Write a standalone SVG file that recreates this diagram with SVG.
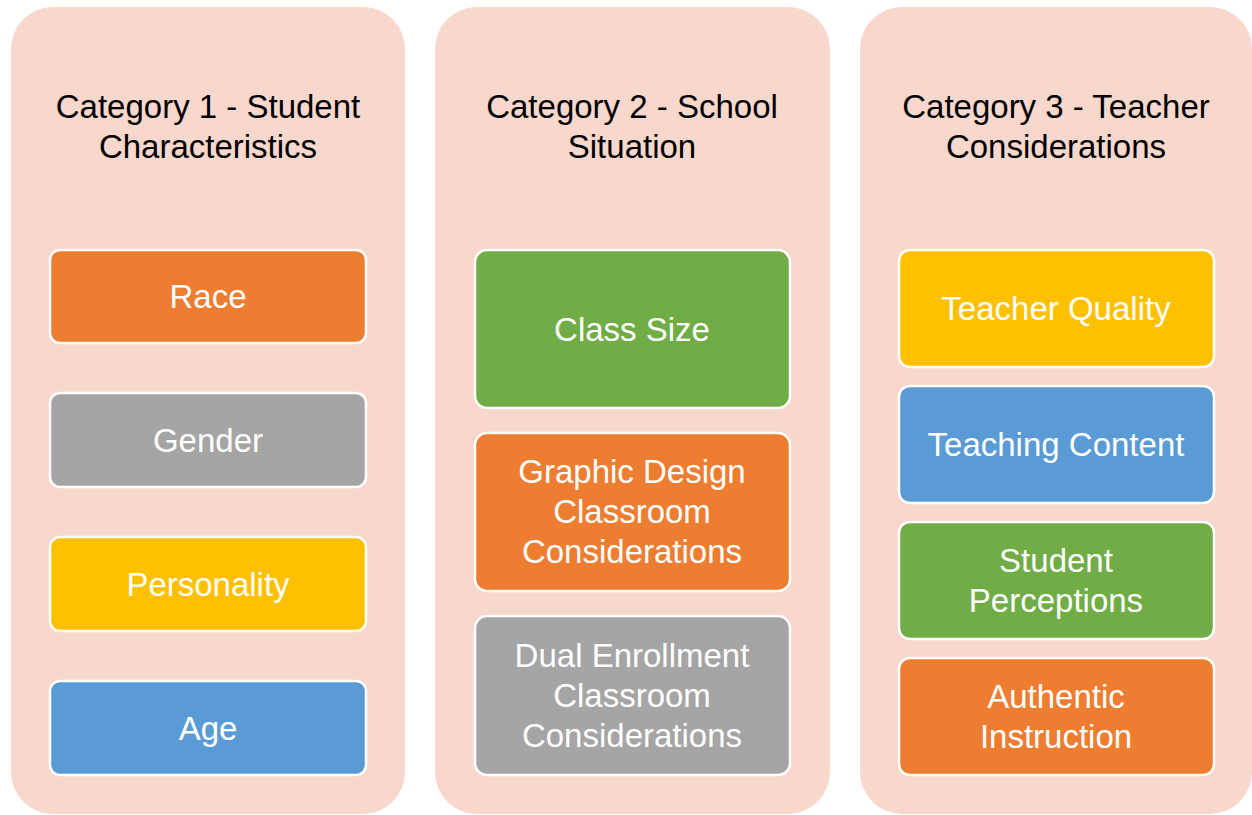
<svg xmlns="http://www.w3.org/2000/svg" width="1252" height="815" viewBox="0 0 1252 815">
<style>
.col{fill:#F8D7CC}
.box{stroke:#FFFFFF;stroke-width:2.5}
.t{font-family:"Liberation Sans",Arial,sans-serif;font-size:33px;text-anchor:middle}
.h{fill:#000000}
.w{fill:#FFFFFF}
.o{fill:#ED7D31}.g{fill:#A5A5A5}.y{fill:#FFC000}.b{fill:#5B9BD5}.gr{fill:#70AD47}
</style>
<rect width="1252" height="815" fill="#FFFFFF"/>
<g id="category1">
<rect class="col" x="11" y="7" width="394" height="807" rx="42"/>
<text class="t h" x="208" y="118">Category 1 - Student</text>
<text class="t h" x="208" y="158">Characteristics</text>
</g>
<g id="category2">
<rect class="col" x="435" y="7" width="395" height="807" rx="42"/>
<text class="t h" x="632" y="118">Category 2 - School</text>
<text class="t h" x="632" y="158">Situation</text>
</g>
<g id="category3">
<rect class="col" x="860" y="7" width="392" height="807" rx="42"/>
<text class="t h" x="1056" y="118">Category 3 - Teacher</text>
<text class="t h" x="1056" y="158">Considerations</text>
</g>
<g id="race"><rect class="box o" x="50" y="250" width="316" height="93" rx="10"/><text class="t w" x="208" y="308">Race</text></g>
<g id="gender"><rect class="box g" x="50" y="393" width="316" height="94" rx="10"/><text class="t w" x="208" y="452">Gender</text></g>
<g id="personality"><rect class="box y" x="50" y="537" width="316" height="94" rx="10"/><text class="t w" x="208" y="596">Personality</text></g>
<g id="age"><rect class="box b" x="50" y="681" width="316" height="94" rx="10"/><text class="t w" x="208" y="740">Age</text></g>
<g id="classsize"><rect class="box gr" x="475" y="250" width="315" height="158" rx="12"/><text class="t w" x="632" y="341">Class Size</text></g>
<g id="graphicdesign"><rect class="box o" x="475" y="433" width="315" height="158" rx="12"/><text class="t w" x="632" y="483">Graphic Design</text><text class="t w" x="632" y="523">Classroom</text><text class="t w" x="632" y="563">Considerations</text></g>
<g id="dualenrollment"><rect class="box g" x="475" y="616" width="315" height="159" rx="12"/><text class="t w" x="632" y="667">Dual Enrollment</text><text class="t w" x="632" y="707">Classroom</text><text class="t w" x="632" y="747">Considerations</text></g>
<g id="teacherquality"><rect class="box y" x="899" y="250" width="315" height="117" rx="11"/><text class="t w" x="1056" y="320">Teacher Quality</text></g>
<g id="teachingcontent"><rect class="box b" x="899" y="386" width="315" height="117" rx="11"/><text class="t w" x="1056" y="456">Teaching Content</text></g>
<g id="studentperceptions"><rect class="box gr" x="899" y="522" width="315" height="117" rx="11"/><text class="t w" x="1056" y="572">Student</text><text class="t w" x="1056" y="612">Perceptions</text></g>
<g id="authenticinstruction"><rect class="box o" x="899" y="658" width="315" height="117" rx="11"/><text class="t w" x="1056" y="708">Authentic</text><text class="t w" x="1056" y="748">Instruction</text></g>
<g id="connectors"></g>
</svg>
